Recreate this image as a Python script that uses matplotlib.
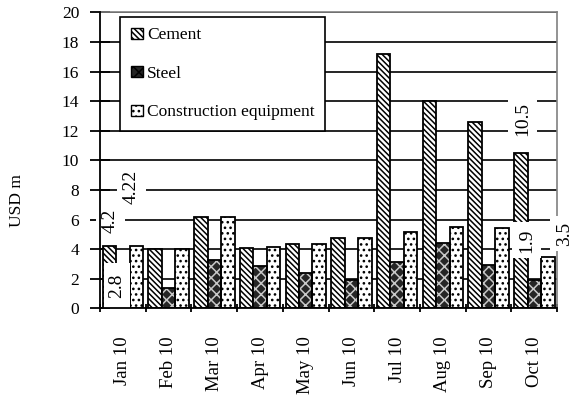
import numpy as np
import matplotlib
matplotlib.use('Agg')
import matplotlib.pyplot as plt
from matplotlib.patches import Patch

plt.rcParams['font.family'] = ['Liberation Serif', 'DejaVu Serif']
plt.rcParams['hatch.linewidth'] = 1.1

# 数据
months = ['Jan 10', 'Feb 10', 'Mar 10', 'Apr 10', 'May 10',
          'Jun 10', 'Jul 10', 'Aug 10', 'Sep 10', 'Oct 10']
cement = [4.2, 4.0, 6.15, 4.1, 4.37, 4.76, 17.2, 14.0, 12.6, 10.5]
steel = [2.8, 1.38, 3.24, 2.88, 2.39, 1.95, 3.13, 4.4, 2.9, 1.9]
equipment = [4.22, 4.0, 6.15, 4.14, 4.37, 4.76, 5.17, 5.52, 5.4, 3.5]
series_names = ['Cement', 'Steel', 'Construction equipment']

# 数据标签（只有一月和十月有）
labels_jan = ['4.2', '2.8', '4.22']
labels_oct = ['10.5', '1.9', '3.5']

fig = plt.figure(figsize=(5.78, 4.0), dpi=100)
ax = fig.add_axes([0.173, 0.229, 0.791, 0.740])

x = np.arange(len(months))
w = 0.295
h_cement = '\\' * 6
h_steel = 'xxx'
h_equip = '...'

# 网格线
for yv in range(2, 21, 2):
    ax.axhline(yv, color='black', lw=1.2, zorder=0)

# 水泥: 白底斜线
ax.bar(x - w, cement, w, facecolor='white', edgecolor='black',
       hatch=h_cement, lw=1.3, zorder=2)
# 钢材: 深色底白色网纹
ax.bar(x, steel, w, facecolor='#252525', edgecolor='#c8c8c8',
       hatch=h_steel, lw=0, zorder=2)
ax.bar(x, steel, w, fill=False, edgecolor='black', lw=1.3, zorder=2.1)
# 施工设备: 白底点
ax.bar(x + w, equipment, w, facecolor='white', edgecolor='black',
       hatch=h_equip, lw=1.3, zorder=2)

# 数据标签（白色背景，旋转90度）
jan_pos = [(-0.27, 5.93), (-0.13, 1.55), (0.19, 8.2)]
oct_pos = [(-0.26, 12.8), (-0.17, 4.6), (0.66, 5.05)]
jan_box = [dict(facecolor='white', edgecolor='none', pad=4),
           dict(facecolor='white', edgecolor='none',
                boxstyle='square,pad=0.55', mutation_aspect=0.45),
           dict(facecolor='white', edgecolor='none', pad=4)]
for (dx, yy), t, b in zip(jan_pos, labels_jan, jan_box):
    ax.text(0 + dx, yy, t, rotation=90, ha='center', va='center',
            fontsize=14, zorder=3, clip_on=False, bbox=b)
for (dx, yy), t in zip(oct_pos, labels_oct):
    ax.text(9 + dx, yy, t, rotation=90, ha='center', va='center',
            fontsize=14, zorder=3, clip_on=False,
            bbox=dict(facecolor='white', edgecolor='none', pad=4))

# 坐标轴
ax.set_xlim(-0.5, len(months) - 0.5)
ax.set_ylim(0, 20)
ax.set_yticks(range(0, 21, 2))
ax.set_xticks(x)
ax.set_xticklabels(months, rotation=90, fontsize=13.5)
ax.set_xticks(np.arange(-0.5, len(months)), minor=True)
ax.tick_params(axis='x', which='major', length=0, pad=20)
ax.tick_params(axis='x', which='minor', length=6, width=1.3, direction='inout')
ax.tick_params(axis='y', length=14, width=1.3, direction='inout',
               labelsize=12.5, pad=8)

for s in ['top', 'right']:
    ax.spines[s].set_color('#808080')
    ax.spines[s].set_linewidth(1.2)
for s in ['left', 'bottom']:
    ax.spines[s].set_linewidth(1.3)
    ax.spines[s].set_zorder(3.5)

ax.set_ylabel('USD m', fontsize=12.5)
ax.yaxis.set_label_coords(-0.163, 0.366)

# 图例
handles = [Patch(facecolor='white', edgecolor='black', hatch=h_cement, lw=1),
           Patch(facecolor='#252525', edgecolor='black', hatch=h_steel, lw=1),
           Patch(facecolor='white', edgecolor='black', hatch=h_equip, lw=1)]
leg = ax.legend(handles, series_names, loc='upper left',
                bbox_to_anchor=(0.044, 0.985), fontsize=12.5,
                fancybox=False, framealpha=1, edgecolor='black',
                handlelength=0.7, handleheight=0.6, handletextpad=0.25,
                labelspacing=1.3, borderpad=0.6, borderaxespad=0)
leg.get_frame().set_linewidth(1.2)
leg.set_zorder(4)

fig.savefig('out.png', dpi=100)
